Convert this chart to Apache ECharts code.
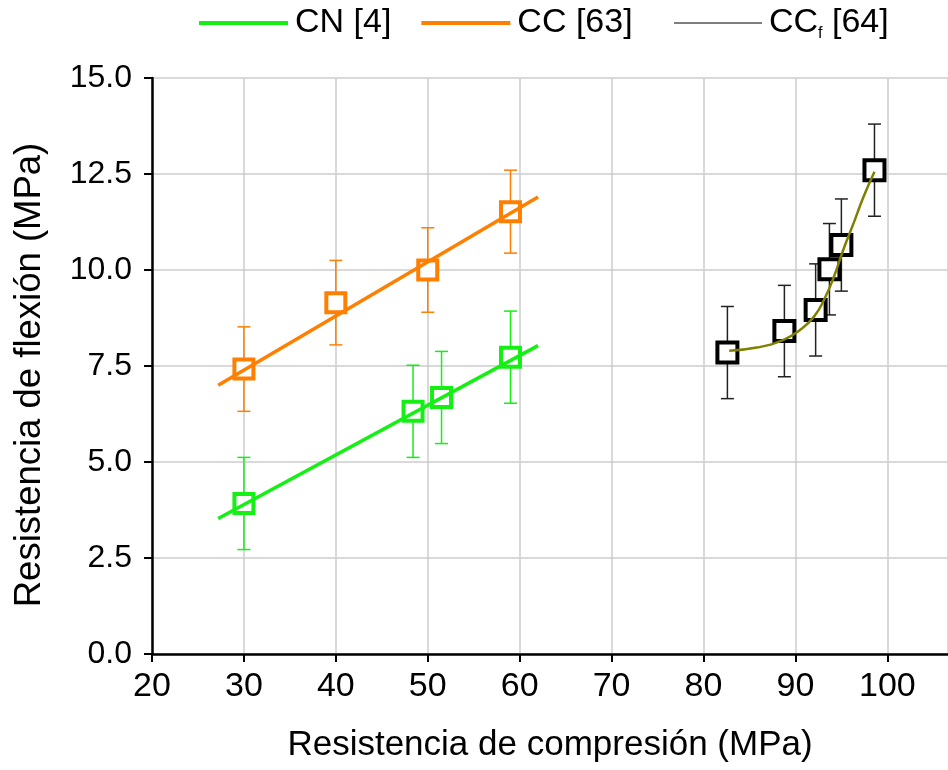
<!DOCTYPE html>
<html>
<head>
<meta charset="utf-8">
<script src="https://cdn.jsdelivr.net/npm/echarts@6/dist/echarts.min.js"></script>
<style>
  html, body { margin: 0; padding: 0; background: #fff; }
  #chart { width: 948px; height: 770px; }
</style>
</head>
<body>
<div id="chart"></div>
<script>
// CN [4]
var cnX = [30, 48.4, 51.5, 59];
var cnY = [3.92, 6.32, 6.68, 7.73];
var cnErr = [1.2, 1.2, 1.2, 1.2];
var cnFitX = [27.2, 62];
var cnFitY = [3.53, 8.03];

// CC [63]
var ccX = [30, 40, 50, 59];
var ccY = [7.42, 9.15, 10.0, 11.52];
var ccErr = [1.1, 1.1, 1.1, 1.08];
var ccFitX = [27.2, 62];
var ccFitY = [7.0, 11.9];

// CCf [64]
var ccfX = [82.6, 88.8, 92.2, 93.7, 95.0, 98.6];
var ccfY = [7.85, 8.41, 8.96, 10.02, 10.65, 12.6];
var ccfErr = [1.2, 1.19, 1.2, 1.19, 1.2, 1.2];
var ccfFitX = [82.8, 85.8, 88.7, 90.5, 92.0, 93.1, 94.2, 95.2, 96.3, 97.4, 98.6];
var ccfFitY = [7.9, 7.98, 8.18, 8.44, 8.78, 9.22, 9.83, 10.52, 11.2, 11.9, 12.56];

var xTicks = [20, 30, 40, 50, 60, 70, 80, 90, 100];
var yTicks = [0, 2.5, 5, 7.5, 10, 12.5, 15];

var green = '#14f014', orange = '#ff7f00', black = '#000000', olive = '#808000';
var font = 'Liberation Sans, Arial, sans-serif';

function zip(xs, ys) {
  return xs.map(function (x, i) { return [x, ys[i]]; });
}
function errData(xs, ys, es) {
  return xs.map(function (x, i) { return [x, ys[i] - es[i], ys[i] + es[i]]; });
}
function errSeries(xs, ys, es, color) {
  return {
    type: 'custom',
    z: 2,
    silent: true,
    data: errData(xs, ys, es),
    encode: { x: 0, y: [1, 2] },
    renderItem: function (params, api) {
      var x = api.value(0);
      var lo = api.coord([x, api.value(1)]);
      var hi = api.coord([x, api.value(2)]);
      var hw = 6.5;
      var st = { stroke: color, lineWidth: 1.5 };
      return {
        type: 'group',
        children: [
          { type: 'line', shape: { x1: lo[0], y1: lo[1], x2: hi[0], y2: hi[1] }, style: st },
          { type: 'line', shape: { x1: lo[0] - hw, y1: lo[1], x2: lo[0] + hw, y2: lo[1] }, style: st },
          { type: 'line', shape: { x1: hi[0] - hw, y1: hi[1], x2: hi[0] + hw, y2: hi[1] }, style: st }
        ]
      };
    }
  };
}
function markSeries(xs, ys, color, size, bw) {
  return {
    type: 'scatter',
    z: 3,
    silent: true,
    symbol: 'rect',
    symbolSize: size,
    data: zip(xs, ys),
    itemStyle: { color: '#fff', borderColor: color, borderWidth: bw, opacity: 1 }
  };
}
function fitSeries(name, xs, ys, color, width, smooth) {
  return {
    name: name,
    type: 'line',
    z: 4,
    silent: true,
    smooth: smooth,
    symbol: 'none',
    data: zip(xs, ys),
    color: color,
    lineStyle: { color: color, width: width }
  };
}

var chart = echarts.init(document.getElementById('chart'));
chart.setOption({
  animation: false,
  backgroundColor: '#fff',
  grid: { left: 152, right: 0, top: 78, bottom: 116, containLabel: false },
  legend: [
    {
      left: 194, top: 1,
      icon: 'rect', itemWidth: 89, itemHeight: 4, itemGap: 30,
      selectedMode: false,
      textStyle: { fontFamily: font, fontSize: 34, color: '#000', padding: [0, 0, 0, 2] },
      data: ['CN [4]', 'CC [63]']
    },
    {
      left: 669, top: 1,
      icon: 'rect', itemWidth: 88, itemHeight: 1.5,
      selectedMode: false,
      formatter: function () { return '{a|CC}{s|f}{a| [64]}'; },
      textStyle: {
        fontFamily: font, fontSize: 34, color: '#000', padding: [0, 0, 0, 2],
        rich: {
          a: { fontFamily: font, fontSize: 34, color: '#000' },
          s: { fontFamily: font, fontSize: 16, color: '#000', padding: [22, 0, 0, 0] }
        }
      },
      data: [{ name: 'CC_f [64]', itemStyle: { color: '#555' } }]
    }
  ],
  xAxis: {
    type: 'value',
    min: 20, max: 106.6, interval: 10,
    name: 'Resistencia de compresión (MPa)',
    nameLocation: 'middle', nameGap: 74,
    nameTextStyle: { fontFamily: font, fontSize: 35, color: '#000' },
    axisLine: { onZero: false, lineStyle: { color: '#000', width: 2.5 } },
    axisTick: { inside: false, length: 8, lineStyle: { color: '#000', width: 2 } },
    axisLabel: {
      fontFamily: font, fontSize: 34, color: '#000', margin: 16,
      showMaxLabel: false,
      formatter: function (v) { return xTicks.indexOf(v) >= 0 ? String(v) : ''; }
    },
    splitLine: { show: true, lineStyle: { color: '#cccccc', width: 1.5 } }
  },
  yAxis: {
    type: 'value',
    min: 0, max: 15, interval: 2.5,
    name: 'Resistencia de flexión (MPa)',
    nameLocation: 'middle', nameGap: 104,
    nameTextStyle: { fontFamily: font, fontSize: 36.5, color: '#000', padding: [0, 18, 0, 0] },
    axisLine: { show: true, lineStyle: { color: '#000', width: 2.5 } },
    axisTick: { show: true, inside: false, length: 8, lineStyle: { color: '#000', width: 2 } },
    axisLabel: {
      fontFamily: font, fontSize: 32, color: '#000', margin: 20,
      formatter: function (v) { return yTicks.indexOf(v) >= 0 ? v.toFixed(1) : ''; }
    },
    splitLine: { show: true, lineStyle: { color: '#cccccc', width: 1.5 } }
  },
  series: [
    errSeries(cnX, cnY, cnErr, green),
    errSeries(ccX, ccY, ccErr, orange),
    errSeries(ccfX, ccfY, ccfErr, '#222'),
    markSeries(cnX, cnY, green, 19, 4),
    markSeries(ccX, ccY, orange, 19, 4),
    markSeries(ccfX, ccfY, black, 20, 4),
    fitSeries('CN [4]', cnFitX, cnFitY, green, 3.5, false),
    fitSeries('CC [63]', ccFitX, ccFitY, orange, 3.5, false),
    fitSeries('CC_f [64]', ccfFitX, ccfFitY, olive, 2.5, true)
  ]
});
</script>
</body>
</html>
